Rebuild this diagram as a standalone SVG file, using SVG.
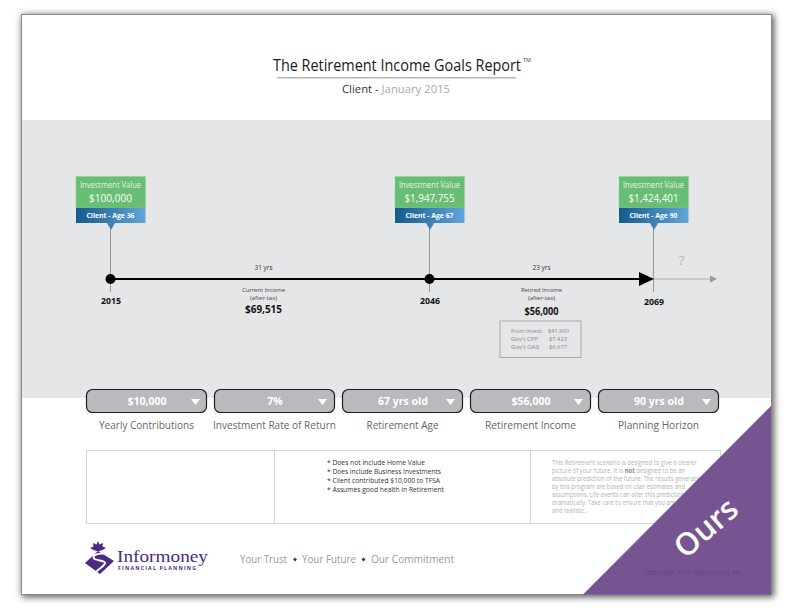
<svg xmlns="http://www.w3.org/2000/svg" width="792" height="612" viewBox="0 0 792 612">
<style>
text{font-family:"Open Sans","Noto Sans","Liberation Sans",sans-serif}
.m{text-anchor:middle}
.iv{fill:#e4f3e0;font-size:8.5px}
.val{fill:#fff;font-size:11.5px}
.age{fill:#fff;font-size:7.5px;font-weight:700}
.yr{fill:#111;font-size:9px;font-weight:700}
.sm{fill:#333;font-size:6.6px}
.sm2{fill:#444;font-size:5.4px}
.inc{fill:#111;font-size:10.5px;font-weight:700}
.bx{fill:#b9babd;stroke:#1c1c1c;stroke-width:1.2}
.bt{fill:#fff;font-size:10.5px;font-weight:700}
.lb{fill:#666;font-size:10.5px}
.gl{fill:#888;font-size:5.7px}
.nt{fill:#333;font-size:6.6px}
.ds{fill:#b2b2b2;font-size:6.2px}
.vl{stroke:#999;stroke-width:1;fill:none}
.tag{fill:#68be72;stroke:#8ccf93;stroke-width:.5}
.logo{font-family:"Liberation Serif",serif;fill:#4b2a84}
</style>
<defs>
<filter id="sh" x="-5%" y="-5%" width="110%" height="110%"><feGaussianBlur stdDeviation="3.5"/></filter>
<linearGradient id="bl" x1="0" x2="1" y1="0" y2="0"><stop offset="0" stop-color="#175a8e"/><stop offset="1" stop-color="#62a5da"/></linearGradient>
</defs>
<rect width="792" height="612" fill="#fff"/>
<rect x="22" y="15" width="752" height="582" fill="#555" filter="url(#sh)"/>
<g id="page">
<rect x="21.500" y="14.500" width="750" height="580" fill="#fff" stroke="#8a8a8a"/>
<rect x="22" y="120" width="749" height="278" fill="#e5e6e8"/>
</g>
<g id="title">
<text x="397" y="71" class="m" fill="#1a1a1a" font-size="16" textLength="248" lengthAdjust="spacingAndGlyphs">The Retirement Income Goals Report</text>
<text x="523" y="62" fill="#444" font-size="5.500">TM</text>
<rect x="277" y="77" width="239" height="1.500" fill="#b5b5b5"/>
<text x="342" y="93" fill="#333" font-size="11" textLength="108" lengthAdjust="spacingAndGlyphs">Client - <tspan fill="#aaa">January 2015</tspan></text>
</g>
<g id="connectors">
<path class="vl" d="M110.500 226V292M429.500 226V292M653.500 226V292"/>
<path d="M654 279H710" stroke="#aaa" stroke-width="1" fill="none"/>
<path d="M710 275.500 717 279 710 282.500Z" fill="#9b9b9b"/>
<path d="M110 279H642" stroke="#000" stroke-width="2.200" fill="none"/>
<path d="M639 272 654 279 639 286Z" fill="#000"/>
</g>
<g id="node-2015">
<rect x="76" y="176.500" width="69.500" height="31.500" class="tag"/>
<rect x="76" y="208" width="69.500" height="15" fill="url(#bl)"/>
<path d="M107 223H115L111 230Z" fill="#3f80b6"/>
<text x="110.500" y="188" class="m iv" textLength="61" lengthAdjust="spacingAndGlyphs">Investment Value</text>
<text x="110.500" y="202" class="m val" textLength="43" lengthAdjust="spacingAndGlyphs">$100,000</text>
<text x="110.500" y="218" class="m age" textLength="48" lengthAdjust="spacingAndGlyphs">Client - Age 36</text>
<circle cx="110.500" cy="279" r="5" fill="#000"/>
<text x="111" y="304" class="m yr" textLength="20" lengthAdjust="spacingAndGlyphs">2015</text>
</g>
<g id="node-2046">
<rect x="395" y="176.500" width="69.500" height="31.500" class="tag"/>
<rect x="395" y="208" width="69.500" height="15" fill="url(#bl)"/>
<path d="M426 223H434L430 230Z" fill="#3f80b6"/>
<text x="429.500" y="188" class="m iv" textLength="61" lengthAdjust="spacingAndGlyphs">Investment Value</text>
<text x="429.500" y="202" class="m val" textLength="50" lengthAdjust="spacingAndGlyphs">$1,947,755</text>
<text x="429.500" y="218" class="m age" textLength="48" lengthAdjust="spacingAndGlyphs">Client - Age 67</text>
<circle cx="429.500" cy="279" r="5" fill="#000"/>
<text x="430" y="304" class="m yr" textLength="20" lengthAdjust="spacingAndGlyphs">2046</text>
</g>
<g id="node-2069">
<rect x="619" y="176.500" width="69.500" height="31.500" class="tag"/>
<rect x="619" y="208" width="69.500" height="15" fill="url(#bl)"/>
<path d="M650 223H658L654 230Z" fill="#3f80b6"/>
<text x="653.500" y="188" class="m iv" textLength="61" lengthAdjust="spacingAndGlyphs">Investment Value</text>
<text x="653.500" y="202" class="m val" textLength="50" lengthAdjust="spacingAndGlyphs">$1,424,401</text>
<text x="653.500" y="218" class="m age" textLength="48" lengthAdjust="spacingAndGlyphs">Client - Age 90</text>
<text x="654" y="305" class="m yr" textLength="20" lengthAdjust="spacingAndGlyphs">2069</text>
<text x="681.500" y="265" class="m" fill="#b5b5b5" font-size="13">?</text>
</g>
<g id="span-current">
<text x="263.500" y="270" class="m sm" textLength="18" lengthAdjust="spacingAndGlyphs">31 yrs</text>
<text x="263.500" y="292" class="m sm2" textLength="43" lengthAdjust="spacingAndGlyphs">Current Income</text>
<text x="263.500" y="300" class="m sm2" textLength="27" lengthAdjust="spacingAndGlyphs">(after-tax)</text>
<text x="263.500" y="313" class="m inc" textLength="37" lengthAdjust="spacingAndGlyphs">$69,515</text>
</g>
<g id="span-retired">
<text x="541.500" y="270" class="m sm" textLength="18" lengthAdjust="spacingAndGlyphs">23 yrs</text>
<text x="541.500" y="292" class="m sm2" textLength="41" lengthAdjust="spacingAndGlyphs">Retired Income</text>
<text x="541.500" y="300" class="m sm2" textLength="27" lengthAdjust="spacingAndGlyphs">(after-tax)</text>
<text x="541.500" y="315" class="m inc" textLength="34" lengthAdjust="spacingAndGlyphs">$56,000</text>
</g>
<g id="breakdown">
<rect x="500" y="321" width="81" height="36.500" fill="#e5e6e8" stroke="#aaa" stroke-width="1"/>
<text x="511" y="333" class="gl" textLength="32" lengthAdjust="spacingAndGlyphs">From Invest.</text><text x="548" y="333" class="gl" textLength="21" lengthAdjust="spacingAndGlyphs">$41,900</text>
<text x="511" y="341" class="gl" textLength="27" lengthAdjust="spacingAndGlyphs">Gov't CPP</text><text x="549" y="341" class="gl" textLength="18" lengthAdjust="spacingAndGlyphs">$7,423</text>
<text x="511" y="349" class="gl" textLength="28" lengthAdjust="spacingAndGlyphs">Gov't OAS</text><text x="549" y="349" class="gl" textLength="18" lengthAdjust="spacingAndGlyphs">$6,677</text>
</g>
<g id="input-contributions">
<rect x="86.500" y="389.500" width="120" height="23" rx="6" class="bx"/>
<text x="147" y="405" class="m bt">$10,000</text><path d="M191 399H200L195.500 405Z" fill="#fff"/>
<text x="146.500" y="429" class="m lb" textLength="95" lengthAdjust="spacingAndGlyphs">Yearly Contributions</text>
</g>
<g id="input-rate">
<rect x="214.500" y="389.500" width="120" height="23" rx="6" class="bx"/>
<text x="275" y="405" class="m bt">7%</text><path d="M318 399H327L322.500 405Z" fill="#fff"/>
<text x="274.500" y="429" class="m lb" textLength="123" lengthAdjust="spacingAndGlyphs">Investment Rate of Return</text>
</g>
<g id="input-age">
<rect x="342.500" y="389.500" width="120" height="23" rx="6" class="bx"/>
<text x="403" y="405" class="m bt">67 yrs old</text><path d="M446 399H455L450.500 405Z" fill="#fff"/>
<text x="402.500" y="429" class="m lb" textLength="72" lengthAdjust="spacingAndGlyphs">Retirement Age</text>
</g>
<g id="input-income">
<rect x="470.500" y="389.500" width="120" height="23" rx="6" class="bx"/>
<text x="531" y="405" class="m bt">$56,000</text><path d="M574 399H583L578.500 405Z" fill="#fff"/>
<text x="530.500" y="429" class="m lb" textLength="91" lengthAdjust="spacingAndGlyphs">Retirement Income</text>
</g>
<g id="input-horizon">
<rect x="598.500" y="389.500" width="120" height="23" rx="6" class="bx"/>
<text x="659" y="405" class="m bt">90 yrs old</text><path d="M702 399H711L706.500 405Z" fill="#fff"/>
<text x="658.500" y="429" class="m lb" textLength="81" lengthAdjust="spacingAndGlyphs">Planning Horizon</text>
</g>
<g id="notes">
<rect x="86.500" y="450.500" width="634" height="73" fill="none" stroke="#d4d4d4"/>
<path d="M274.500 450V524M530.500 450V524" stroke="#d4d4d4" fill="none"/>
<text x="327" y="465" class="nt" textLength="98" lengthAdjust="spacingAndGlyphs">* Does not include Home Value</text>
<text x="327" y="474" class="nt" textLength="114" lengthAdjust="spacingAndGlyphs">* Does include Business Investments</text>
<text x="327" y="483" class="nt" textLength="113" lengthAdjust="spacingAndGlyphs">* Client contributed $10,000 to TFSA</text>
<text x="327" y="492" class="nt" textLength="117" lengthAdjust="spacingAndGlyphs">* Assumes good health in Retirement</text>
<text class="ds" x="552" y="465" textLength="145" lengthAdjust="spacingAndGlyphs">This Retirement scenario is designed to give a clearer</text>
<text class="ds" x="552" y="473" textLength="133" lengthAdjust="spacingAndGlyphs">picture of your future. It is <tspan font-weight="700" fill="#888">not</tspan> designed to be an</text>
<text class="ds" x="552" y="481" textLength="151" lengthAdjust="spacingAndGlyphs">absolute prediction of the future. The results generated</text>
<text class="ds" x="552" y="489" textLength="133" lengthAdjust="spacingAndGlyphs">by this program are based on user estimates and</text>
<text class="ds" x="552" y="497" textLength="132" lengthAdjust="spacingAndGlyphs">assumptions. Life events can alter this prediction</text>
<text class="ds" x="552" y="505" textLength="148" lengthAdjust="spacingAndGlyphs">dramatically. Take care to ensure that you are accurate</text>
<text class="ds" x="552" y="513" textLength="34" lengthAdjust="spacingAndGlyphs">and realistic.</text>
</g>
<g id="logo">
<path d="M98 541 99.500 544.500 103 543 102.500 546.500 106 548 102.500 550 98 551.500 93.500 550 90 548 93.500 546.500 93 543 96.500 544.500Z" fill="#4b2a84"/>
<path d="M98 551 114 561 100 574 85 563Z" fill="#4b2a84"/>
<path d="M104 553.500C96 553 92 556 94 558.500C96 561 105 560 105 563C105 566 99 568 95 573" fill="none" stroke="#fff" stroke-width="2"/>
<text x="117" y="562" class="logo" font-size="17.500" textLength="91" lengthAdjust="spacingAndGlyphs">Informoney</text>
<text x="118" y="570" fill="#4b2a84" font-size="5.200" font-weight="700" textLength="78">FINANCIAL PLANNING</text>
</g>
<g id="tagline">
<text x="240" y="563" fill="#999" font-size="10.500" textLength="47" lengthAdjust="spacingAndGlyphs">Your Trust</text>
<path d="M295 557.500 297 559.500 295 561.500 293 559.500Z" fill="#4b2a84"/>
<text x="302" y="563" fill="#999" font-size="10.500" textLength="54" lengthAdjust="spacingAndGlyphs">Your Future</text>
<path d="M363.500 557.500 365.500 559.500 363.500 561.500 361.500 559.500Z" fill="#4b2a84"/>
<text x="371" y="563" fill="#999" font-size="10.500" textLength="83" lengthAdjust="spacingAndGlyphs">Our Commitment</text>
</g>
<g id="corner">
<path d="M771 406V594.500H583Z" fill="#6f4d8d" fill-opacity=".96"/>
<text x="713" y="536" class="m" fill="#fff" font-size="31" font-weight="600" transform="rotate(-41 713 536)">Ours</text>
<text x="644" y="575" fill="#64467f" font-size="6.300" textLength="99" lengthAdjust="spacingAndGlyphs">Copyright 2015 Informoney Inc.</text>
</g>
</svg>
